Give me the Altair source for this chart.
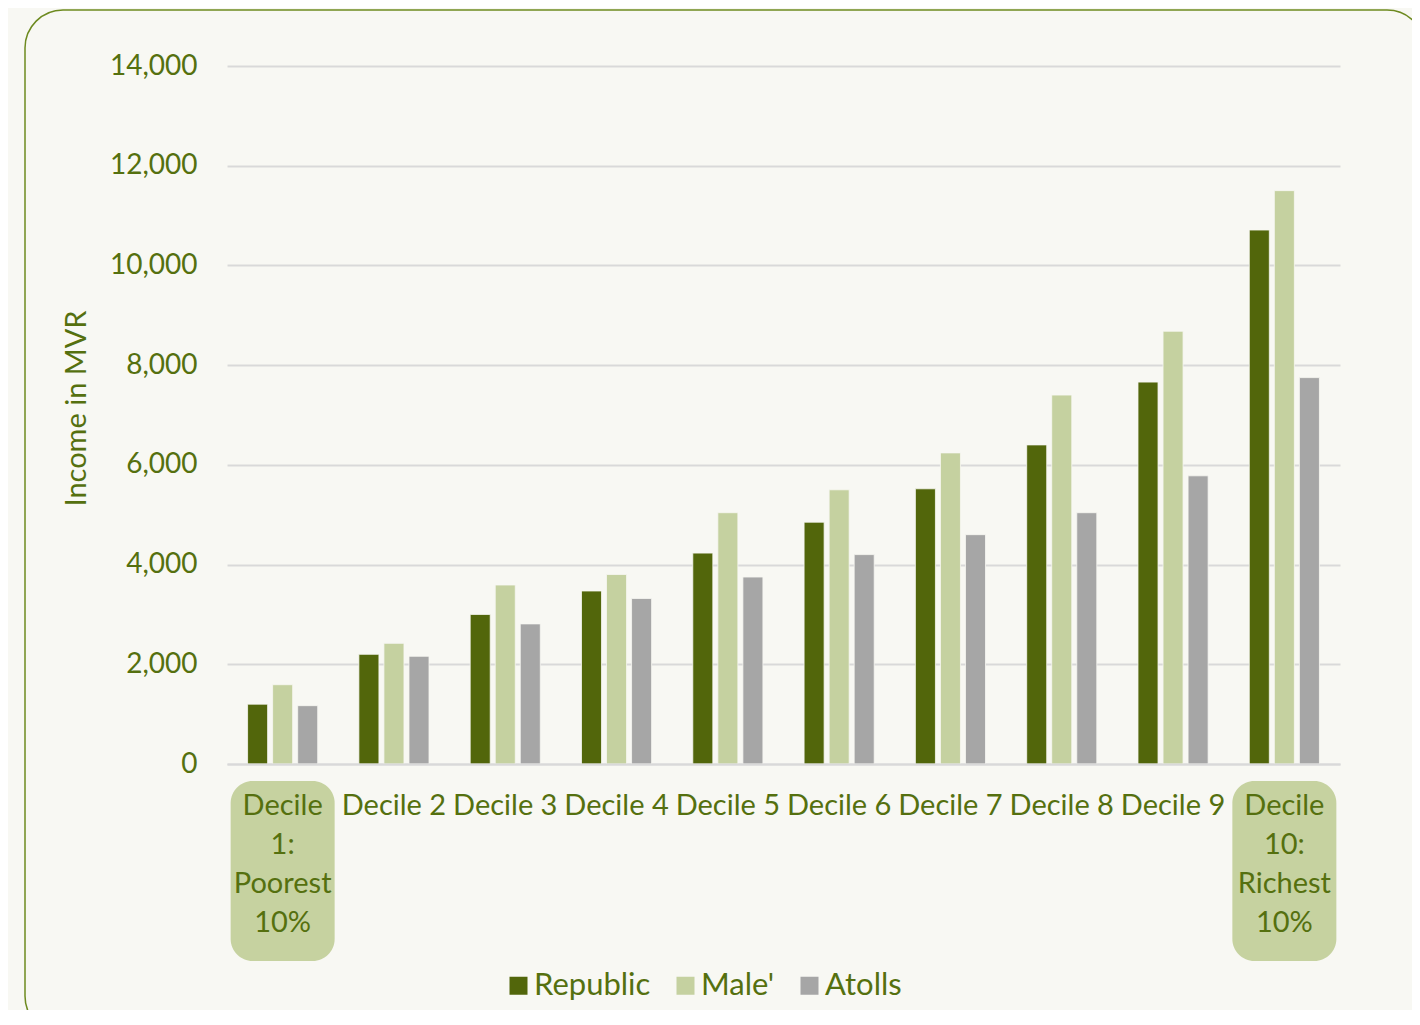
import altair as alt
import pandas as pd

categories = ["Decile 1: Poorest 10%", "Decile 2", "Decile 3", "Decile 4", "Decile 5",
              "Decile 6", "Decile 7", "Decile 8", "Decile 9", "Decile 10: Richest 10%"]
series = ["Republic", "Male'", "Atolls"]
republic = [1200, 2200, 3000, 3470, 4230, 4850, 5520, 6400, 7660, 10710]
male = [1590, 2420, 3590, 3800, 5040, 5500, 6240, 7400, 8680, 11500]
atolls = [1170, 2160, 2810, 3320, 3750, 4200, 4600, 5040, 5780, 7750]
highlight = [categories[0], categories[-1]]
y_ticks = [0, 2000, 4000, 6000, 8000, 10000, 12000, 14000]

colors = ["#52660b", "#c5d1a0", "#a6a6a6"]
TEXT = "#55700f"
FONT = "Lato"

rows = []
for i, c in enumerate(categories):
    for s, vals in zip(series, [republic, male, atolls]):
        rows.append({"category": c, "series": s, "value": vals[i]})
df = pd.DataFrame(rows)
hl_df = pd.DataFrame({"category": highlight})

x_enc = alt.X(
    "category:N",
    sort=categories,
    title=None,
    scale=alt.Scale(paddingInner=0.37, paddingOuter=0.185),
    axis=alt.Axis(
        labelExpr="indexof(datum.value, ':') > 0 ? split(datum.value, ' ') : datum.value",
        labelAngle=0,
        labelFontSize=29,
        labelColor=TEXT,
        labelFont=FONT,
        labelLineHeight=39,
        labelPadding=27,
        labelOverlap=False,
        labelLimit=300,
        ticks=False,
        domainColor="#d9d9d9",
        domainWidth=2,
        zindex=1,
    ),
)

border = alt.Chart(pd.DataFrame({"a": [0]})).mark_rect(
    fillOpacity=0, stroke="#6d8a1f", strokeWidth=1.5, cornerRadius=38
).encode(
    x=alt.value(-202), x2=alt.value(1198), y=alt.value(-56), y2=alt.value(968)
)

boxes = alt.Chart(hl_df).mark_bar(
    width=104, cornerRadius=22, color="#c6d2a0"
).encode(
    x=x_enc,
    y=alt.value(715),
    y2=alt.value(895),
)

bars = alt.Chart(df).mark_bar(stroke="#f8f8f3", strokeWidth=0.8).encode(
    x=x_enc,
    xOffset=alt.XOffset("series:N", sort=series,
                        scale=alt.Scale(paddingInner=0.2, paddingOuter=0)),
    y=alt.Y(
        "value:Q",
        title="Income in MVR",
        scale=alt.Scale(domain=[0, 14000], nice=False),
        axis=alt.Axis(
            values=y_ticks,
            format=",.0f",
            labelFontSize=28,
            labelColor=TEXT,
            labelFont=FONT,
            labelPadding=30,
            ticks=False,
            domain=False,
            gridColor="#d9d9d9",
            gridWidth=2,
            titleFontSize=29,
            titleFont=FONT,
            titleColor=TEXT,
            titleFontWeight="normal",
            titlePadding=18,
            titleY=342,
        ),
    ),
    color=alt.Color(
        "series:N",
        sort=series,
        scale=alt.Scale(domain=series, range=colors),
        legend=alt.Legend(
            orient="none",
            legendX=276,
            legendY=904,
            direction="horizontal",
            title=None,
            symbolType="square",
            symbolSize=324,
            symbolStrokeWidth=0,
            labelFontSize=31,
            labelFont=FONT,
            labelColor=TEXT,
            labelOffset=0,
            columnPadding=19,
            padding=0,
        ),
    ),
)

chart = alt.layer(border, boxes, bars).properties(
    width=1113,
    height=698,
    autosize=alt.AutoSizeParams(type="none"),
    padding={"left": 219, "top": 58, "right": 72, "bottom": 246},
).configure(
    background="#f8f8f3", font=FONT
).configure_view(strokeWidth=0)

chart.save("out.html", embed_options={"renderer": "svg", "actions": False})
